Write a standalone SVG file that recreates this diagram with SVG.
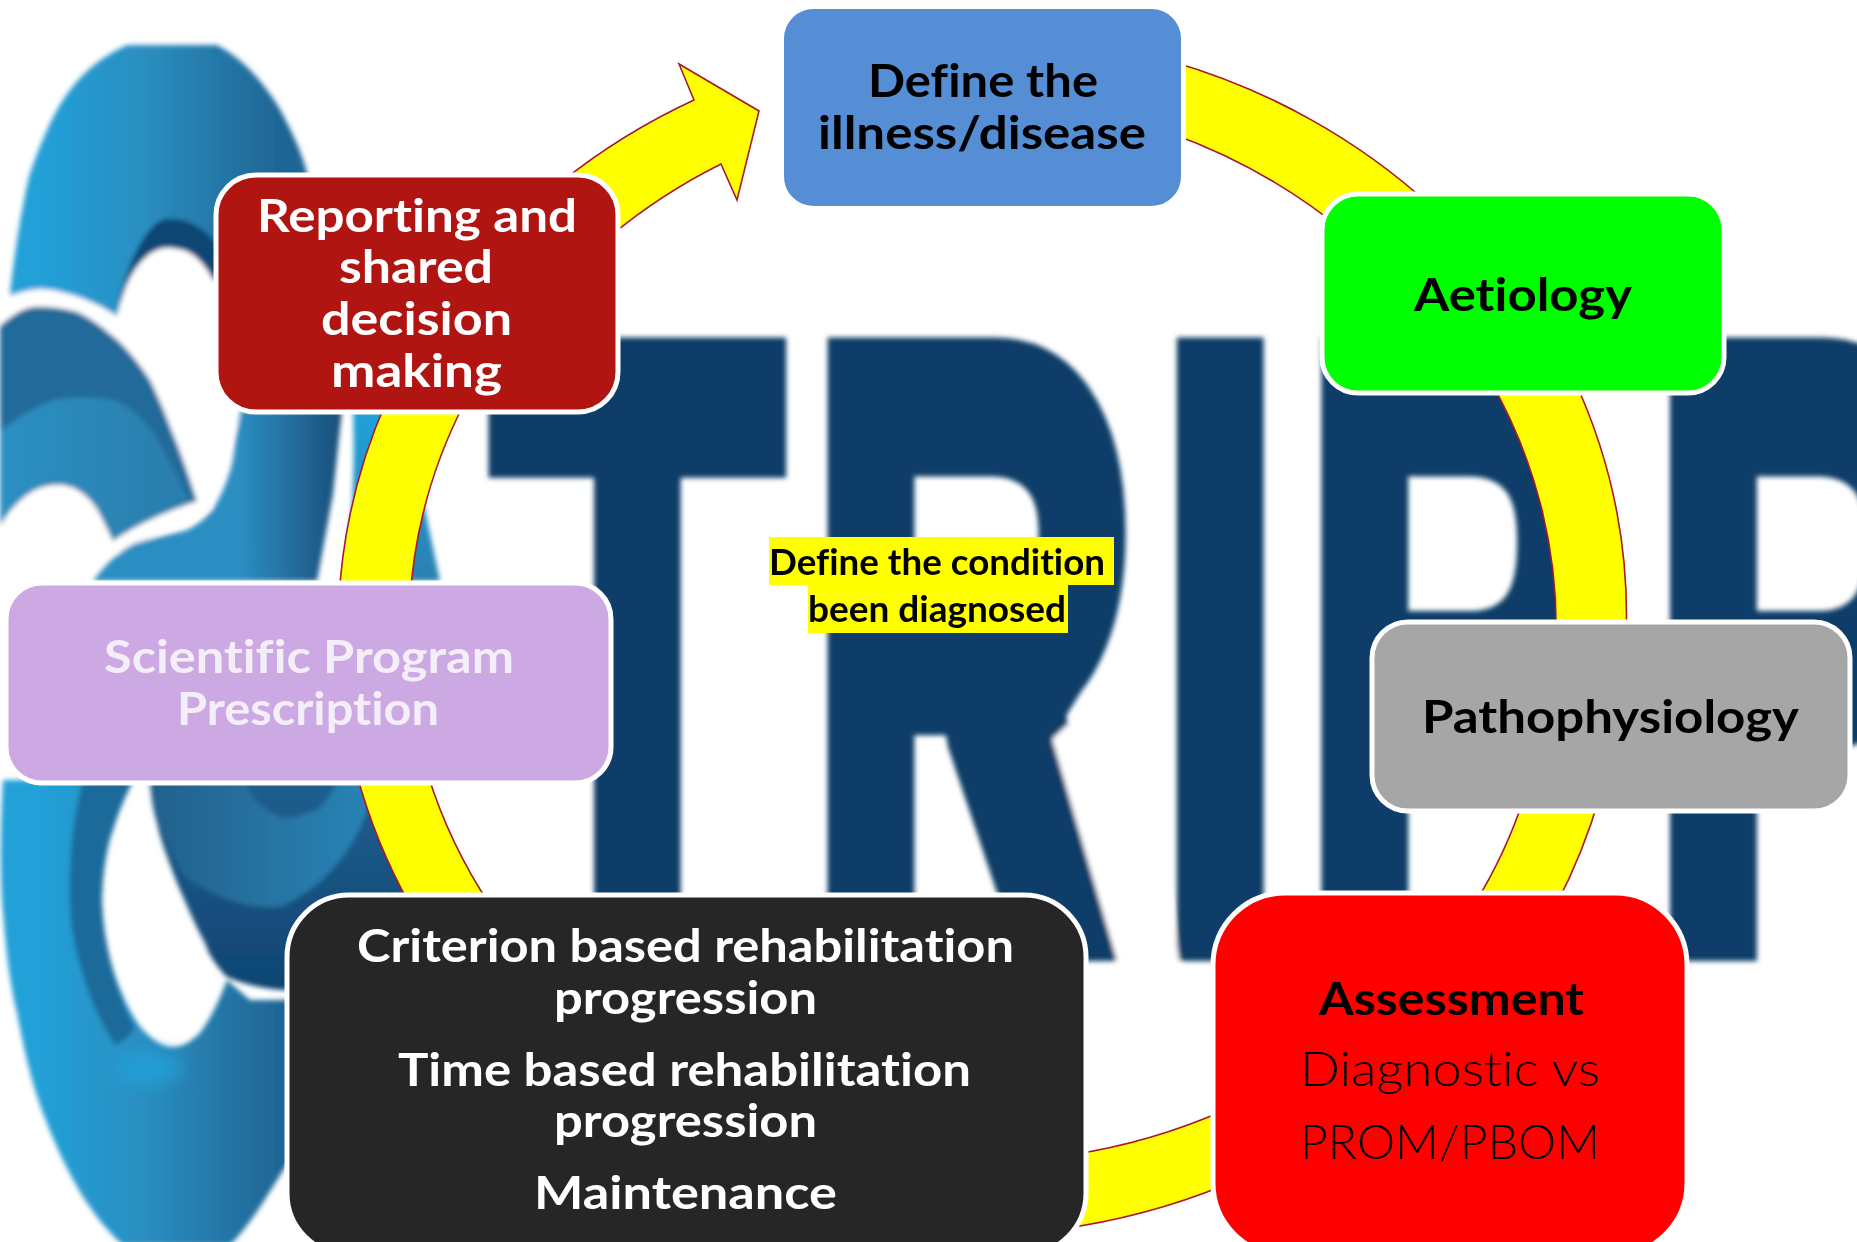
<svg xmlns="http://www.w3.org/2000/svg" width="1857" height="1242" viewBox="0 0 1857 1242">
<style>
.node{stroke:#fff;stroke-width:5}
.band{fill:#ffff00;stroke:#a6192e;stroke-width:1.6;stroke-linejoin:miter}
.t{font-family:"Lato","Liberation Sans",sans-serif;font-size:46px;font-weight:700;font-variant-ligatures:none}
.w{fill:#fff}.k{fill:#000}.p{fill:#f4eef9}
.l{font-weight:300;font-size:48px}
.c{font-family:"Lato","Liberation Sans",sans-serif;font-weight:700;font-size:36px;fill:#000;font-variant-ligatures:none}
.hl{fill:#ffff00}
</style>
<defs>
<filter id="blur" filterUnits="userSpaceOnUse" x="-20" y="-20" width="1900" height="1290"><feGaussianBlur stdDeviation="2.5"/></filter>
<filter id="soft" filterUnits="userSpaceOnUse" x="80" y="1000" width="160" height="120"><feGaussianBlur stdDeviation="9"/></filter>
<linearGradient id="gA" gradientUnits="userSpaceOnUse" x1="10" y1="0" x2="310" y2="0"><stop offset="0.1" stop-color="#22a0d8"/><stop offset="0.45" stop-color="#2a8ec0"/><stop offset="0.9" stop-color="#1f6594"/></linearGradient>
<linearGradient id="gB" gradientUnits="userSpaceOnUse" x1="240" y1="0" x2="340" y2="0"><stop offset="0" stop-color="#2a8ec2"/><stop offset="0.5" stop-color="#246f9e"/><stop offset="1" stop-color="#1a4f7a"/></linearGradient>
<linearGradient id="gM" gradientUnits="userSpaceOnUse" x1="0" y1="0" x2="200" y2="0"><stop offset="0" stop-color="#2a90c2"/><stop offset="1" stop-color="#2a7cab"/></linearGradient>
<linearGradient id="gC" gradientUnits="userSpaceOnUse" x1="0" y1="790" x2="0" y2="985"><stop offset="0" stop-color="#1f5e8e"/><stop offset="1" stop-color="#0f4573"/></linearGradient>
<linearGradient id="gD" gradientUnits="userSpaceOnUse" x1="150" y1="0" x2="370" y2="0"><stop offset="0" stop-color="#24608c"/><stop offset="1" stop-color="#2684b5"/></linearGradient>
<linearGradient id="gR" gradientUnits="userSpaceOnUse" x1="0" y1="416" x2="0" y2="581"><stop offset="0" stop-color="#20a0d8"/><stop offset="1" stop-color="#2a80b0"/></linearGradient>
</defs>
<g id="background" filter="url(#blur)">
<path id="swirl-top" d="M10,294 C15,250 22,205 30,173 C40,145 52,115 67,94 C85,70 100,58 127,45 L217,45 C230,52 243,62 253,73 C270,92 280,108 287,123 C297,142 303,158 307,173 L330,300 L300,330 L117,320 L10,300 Z" fill="url(#gA)"/>
<path id="swirl-shadow" d="M117,312 C122,285 130,262 140,244 C150,228 158,219 167,219 C185,217 205,228 217,244 L240,300 L213,280 C205,265 190,255 193,255 C180,248 172,248 167,248 C150,250 135,265 133,273 Z" fill="#0f4573"/>
<path id="swirl-hole" d="M117,316 C122,295 128,280 133,273 C145,255 155,248 167,248 C178,248 186,250 193,255 C202,262 208,270 213,280 L300,290 L300,420 L240,420 L200,500 L120,535 L110,340 Z" fill="#fff"/>
<path id="swirl-outline" d="M10,296 C25,290 35,289 43,289 C60,290 90,298 117,316 C140,335 165,375 185,430 C195,460 205,490 212,508 L116,555 L95,530 L63,500 L30,505 L0,540 L0,310 Z" fill="#fff"/>
<path id="swirl-mid" d="M0,326 C12,315 22,309 33,307 C48,306 63,308 77,312 C90,318 100,325 110,334 C125,345 138,362 150,380 C160,400 167,418 173,434 C182,455 190,480 197,501 C170,510 135,525 113,541 C108,530 102,518 97,509 C88,495 75,486 63,485 C50,484 40,487 33,491 C20,498 8,512 0,526 Z" fill="#236a9a"/>
<path id="swirl-mid-light" d="M0,432 C20,415 45,400 67,398 C85,396 103,398 117,401 C135,410 150,425 160,445 C172,465 182,485 190,502 C165,512 135,525 113,538 C108,528 102,516 97,507 C88,493 75,484 63,483 C50,482 40,485 33,489 C20,496 8,510 0,524 Z" fill="url(#gM)"/>
<path id="swirl-ring" d="M240,410 L342,410 L333,494 L317,581 L93,581 C105,565 118,552 133,544 C150,538 170,535 187,530 C200,524 208,515 213,509 C222,495 230,475 233,459 Z" fill="url(#gB)"/>
<path id="swirl-right" d="M353,410 L400,410 L425,510 L440,581 L345,581 C352,530 355,470 353,410 Z" fill="url(#gR)"/>
<path id="swirl-low" d="M3,780 C0,830 0,880 3,913 C6,950 10,985 17,1013 C24,1050 32,1085 43,1113 C55,1145 68,1172 83,1197 C95,1215 108,1232 123,1245 L230,1245 C240,1235 250,1222 260,1207 C270,1192 278,1178 290,1160 L300,1000 L250,1000 L227,980 C218,1005 208,1022 200,1033 C190,1042 182,1047 173,1047 C163,1047 153,1040 143,1030 C130,1015 120,990 113,970 C106,945 102,920 102,897 C103,870 107,845 113,830 C118,812 125,798 133,780 Z" fill="url(#gA)"/>
<path id="swirl-low-dark" d="M83,780 C68,830 68,900 72,930 C80,975 95,1015 115,1045 C122,1042 130,1036 135,1028 C125,1010 118,990 113,970 C106,945 102,920 102,897 C103,870 107,845 113,830 C118,812 125,798 133,780 Z" fill="#1f6a9a"/>
<ellipse id="swirl-low-spot" cx="148" cy="1068" rx="34" ry="14" fill="#22a0d8" filter="url(#soft)"/>
<path id="swirl-cup" d="M150,780 L410,780 L410,900 L300,992 L287,990 C270,990 245,985 227,977 C215,965 205,947 207,947 C195,925 187,905 180,890 C170,865 160,840 157,823 C153,810 151,798 150,780 Z" fill="url(#gC)"/>
<path id="swirl-cup-light" d="M150,780 L243,780 C250,795 258,804 267,810 C275,816 283,818 290,818 C300,816 310,812 317,810 C325,802 332,795 337,780 L376,780 C365,825 345,875 283,906 C250,912 210,895 183,875 C170,850 155,815 150,780 Z" fill="url(#gD)"/>
<g id="logo-word"><text transform="translate(0,921) scale(0.565,1)" x="887 1440 2050 2314 2931" y="0" font-family="Liberation Sans" font-size="790" fill="#103d67" stroke="#103d67" stroke-width="80" stroke-linejoin="miter">TRIPP</text>
<polygon points="1052,739 1117,962 1180,965 1170,900 1105,690" fill="#fff"/>
<polygon points="948,747 1020,961 1117,961 1052,739 1082,690 940,700" fill="#103d67"/></g>
</g>
<g id="connectors">
<path class="band" d="M1170,61 A644 600 0 0 1 1432,207 L1345,232 A575 530 0 0 0 1170,133 Z"/>
<path class="band" d="M1572,375 A644 600 0 0 1 1626,640 L1556,640 A575 530 0 0 0 1487,375 Z"/>
<path class="band" d="M1600,795 A644 600 0 0 1 1556,905 L1474,905 A575 530 0 0 0 1525,795 Z"/>
<path class="band" d="M1225,1185 A644 600 0 0 1 1060,1229 L1070,1155 A575 530 0 0 0 1225,1110 Z"/>
<path class="band" d="M410,905 A644 600 0 0 1 357,775 L428,775 A575 530 0 0 0 490,905 Z"/>
<path class="band" d="M339,600 A644 600 0 0 1 387,400 L466,400 A575 530 0 0 0 410,600 Z"/>
<path class="band" d="M560,183 A644 600 0 0 1 694,100 L679,64 L759,111 L737,200 L721,164 A575 530 0 0 0 608,238 Z"/>
</g>
<g id="node-define"><rect class="node" x="781.500" y="6.500" width="402" height="202" rx="32" fill="#558ed5"/>
<text class="t k" x="868" y="97" textLength="230" lengthAdjust="spacingAndGlyphs">Define the</text>
<text class="t k" x="818" y="149" textLength="328" lengthAdjust="spacingAndGlyphs">illness/disease</text></g>
<g id="node-aetiology"><rect class="node" x="1322" y="194" width="402" height="199" rx="36" fill="#00ff00"/>
<text class="t k" x="1414" y="311" textLength="218" lengthAdjust="spacingAndGlyphs">Aetiology</text></g>
<g id="node-pathophysiology"><rect class="node" x="1372" y="622" width="478" height="189" rx="36" fill="#a6a6a6"/>
<text class="t k" x="1422" y="733" textLength="377" lengthAdjust="spacingAndGlyphs">Pathophysiology</text></g>
<g id="node-assessment"><rect class="node" x="1213" y="893" width="474" height="362" rx="72" fill="#ff0000"/>
<text class="t k" x="1319" y="1015" textLength="265" lengthAdjust="spacingAndGlyphs">Assessment</text>
<text class="t l k" x="1300" y="1086" textLength="300" lengthAdjust="spacingAndGlyphs">Diagnostic vs</text>
<text class="t l k" x="1300" y="1159" textLength="300" lengthAdjust="spacingAndGlyphs">PROM/PBOM</text></g>
<g id="node-criterion"><rect class="node" x="287" y="895" width="799" height="360" rx="62" fill="#262626"/>
<text class="t w" x="357" y="962" textLength="657" lengthAdjust="spacingAndGlyphs">Criterion based rehabilitation</text>
<text class="t w" x="554" y="1014" textLength="263" lengthAdjust="spacingAndGlyphs">progression</text>
<text class="t w" x="398" y="1086" textLength="573" lengthAdjust="spacingAndGlyphs">Time based rehabilitation</text>
<text class="t w" x="554" y="1137" textLength="263" lengthAdjust="spacingAndGlyphs">progression</text>
<text class="t w" x="534" y="1209" textLength="303" lengthAdjust="spacingAndGlyphs">Maintenance</text></g>
<g id="node-scientific"><rect class="node" x="6" y="583" width="605" height="200" rx="36" fill="#cda9e3"/>
<text class="t p" x="104" y="673" textLength="410" lengthAdjust="spacingAndGlyphs">Scientific Program</text>
<text class="t p" x="177" y="725" textLength="262" lengthAdjust="spacingAndGlyphs">Prescription</text></g>
<g id="node-reporting"><rect class="node" x="216" y="175" width="402" height="237" rx="40" fill="#b01512"/>
<text class="t w" x="257" y="232" textLength="320" lengthAdjust="spacingAndGlyphs">Reporting and</text>
<text class="t w" x="339" y="283" textLength="154" lengthAdjust="spacingAndGlyphs">shared</text>
<text class="t w" x="321" y="335" textLength="191" lengthAdjust="spacingAndGlyphs">decision</text>
<text class="t w" x="331" y="387" textLength="171" lengthAdjust="spacingAndGlyphs">making</text></g>
<g id="center-note">
<rect class="hl" x="769" y="537" width="345" height="48"/>
<rect class="hl" x="808" y="585" width="260" height="48"/>
<text class="c" x="769" y="575" textLength="336" lengthAdjust="spacingAndGlyphs">Define the condition</text>
<text class="c" x="808" y="622" textLength="258" lengthAdjust="spacingAndGlyphs">been diagnosed</text></g>
</svg>
